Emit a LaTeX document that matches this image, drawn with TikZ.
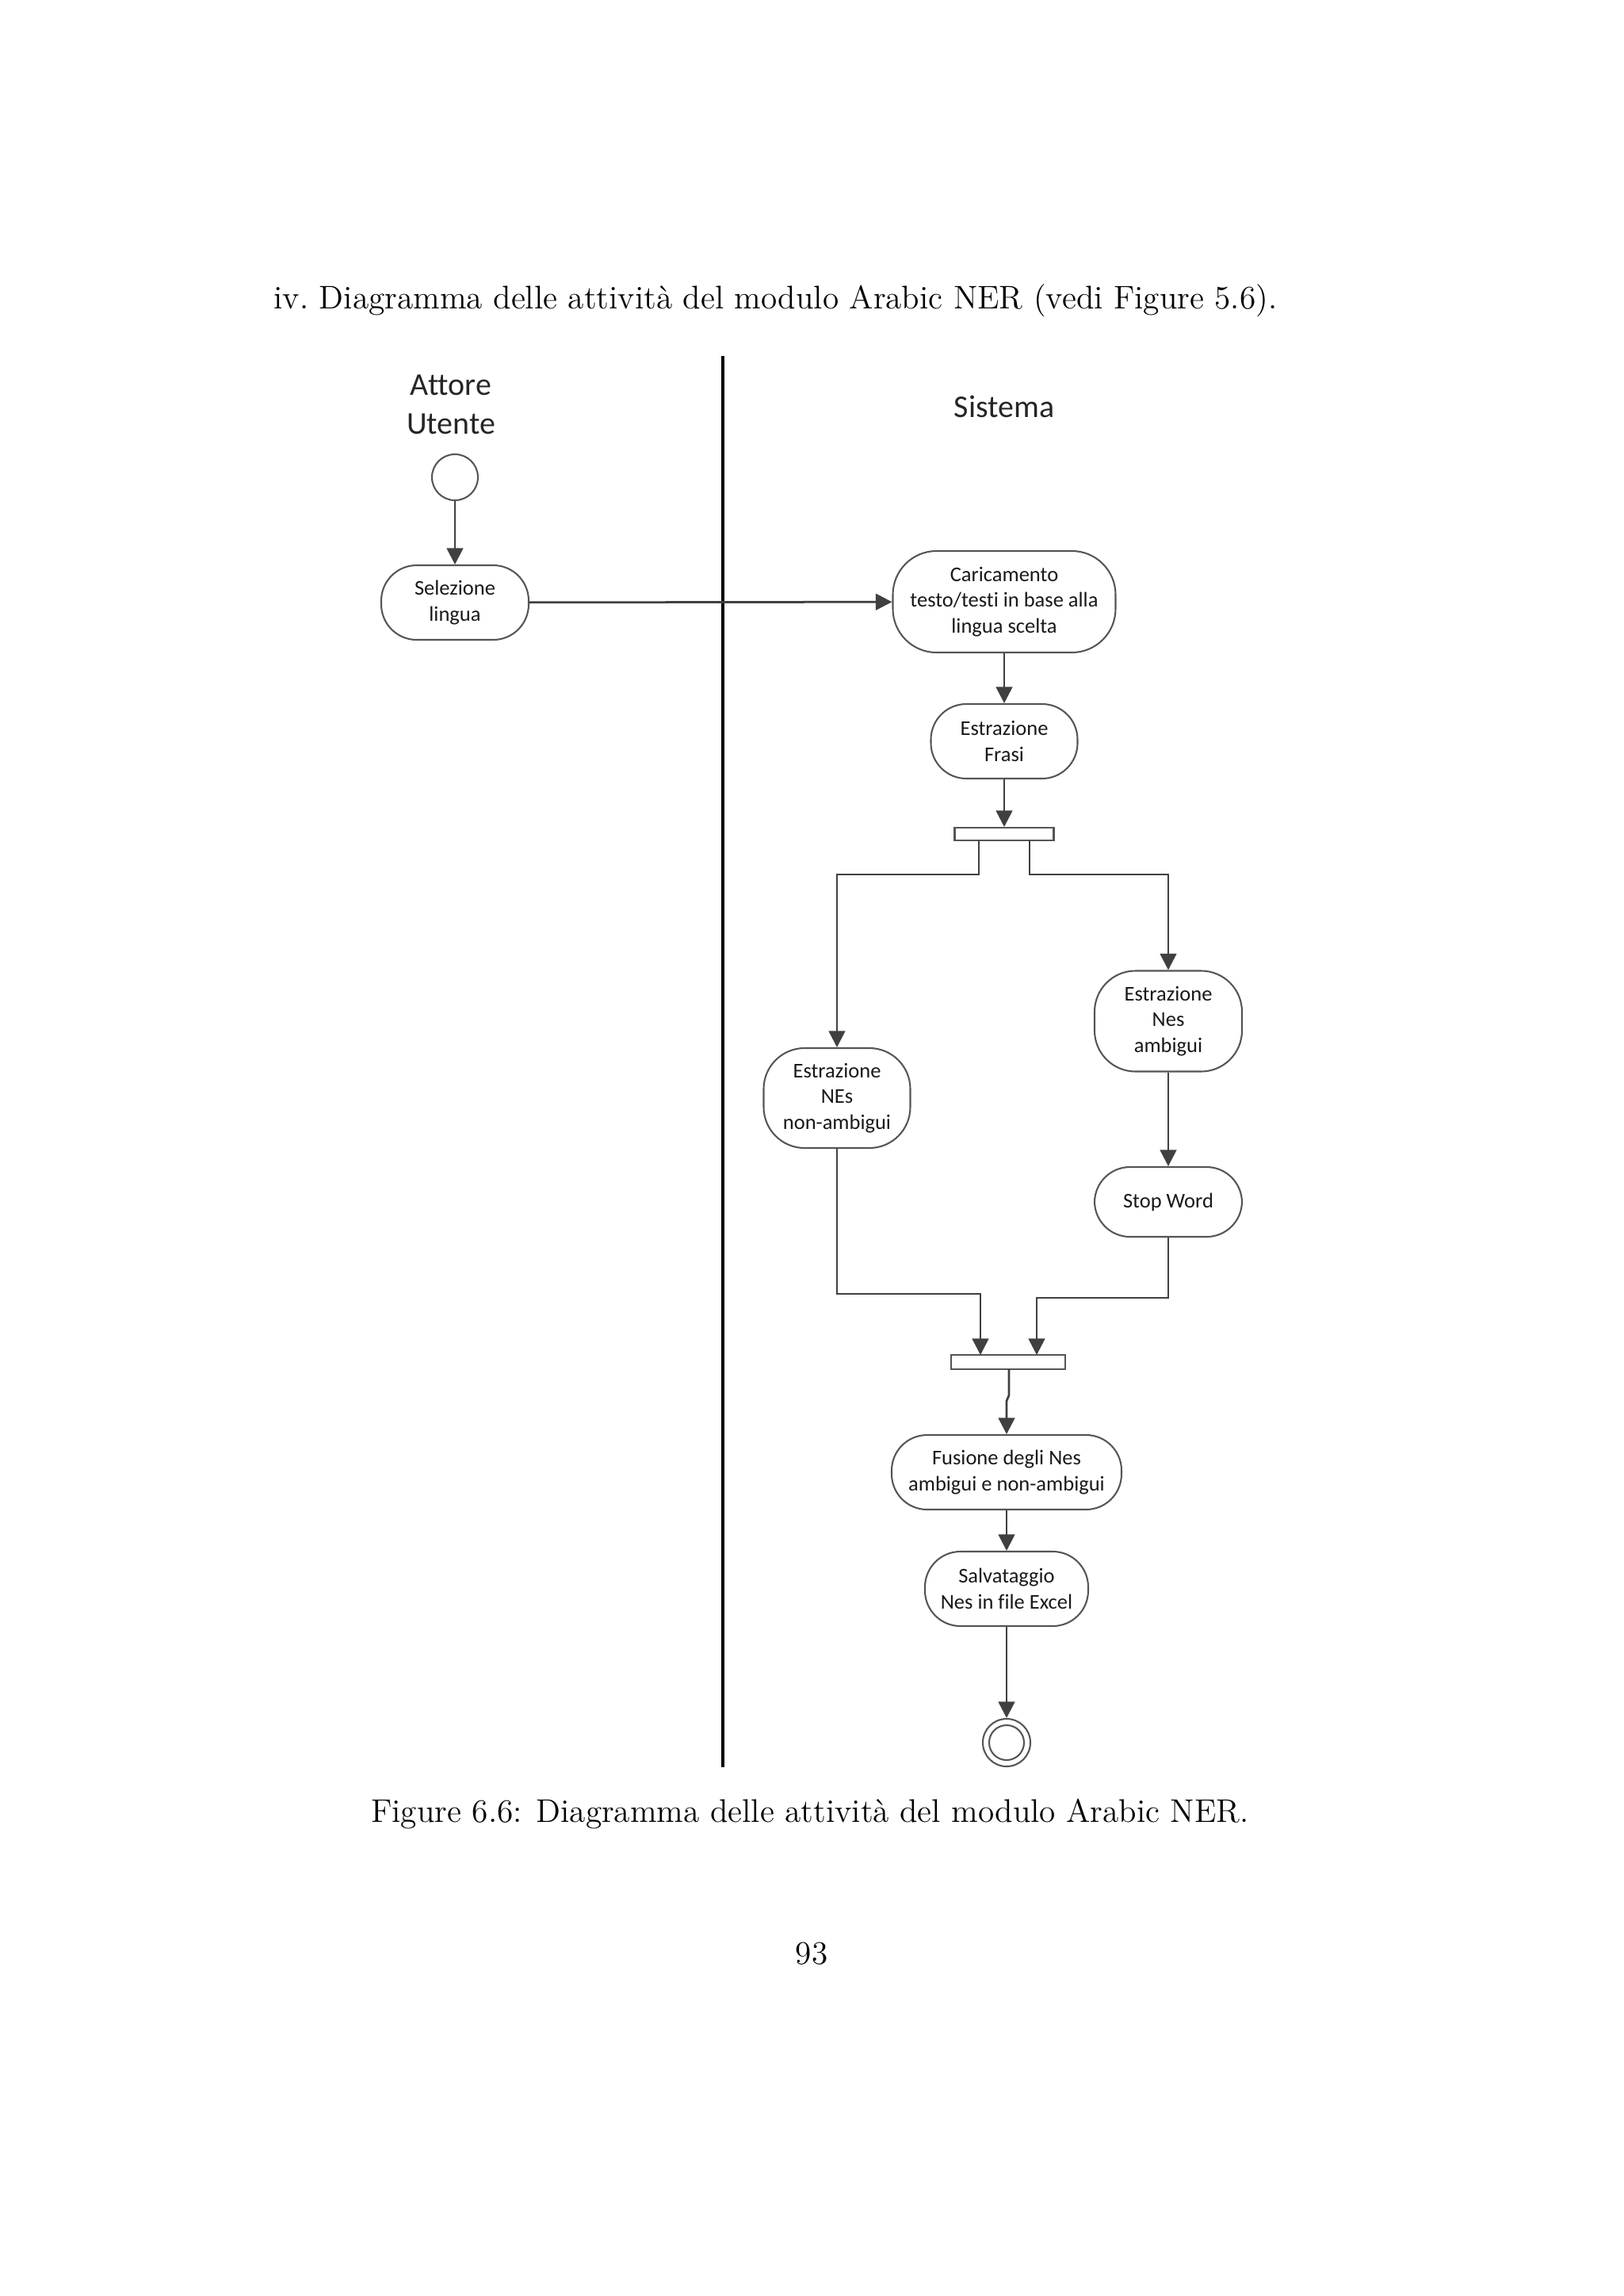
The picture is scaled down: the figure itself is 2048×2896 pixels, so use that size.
\documentclass[tikz,border=0pt]{standalone}
\usepackage{fontspec}
\newfontfamily\carlito[RawFeature={-liga;-clig;-dlig}]{Carlito}
\usetikzlibrary{arrows.meta,calc}
\newdimen\pxu \pxu=0.29067pt
\definecolor{ln}{HTML}{404040}
\definecolor{bd}{HTML}{555555}
\tikzset{
  act/.style={draw=bd, line width=0.6pt, fill=white, rounded corners=13pt, inner sep=0pt, align=center,
              font=\carlito\fontsize{7.7}{9.5}\selectfont, text=black!90},
  barbox/.style={draw=bd, line width=0.6pt, fill=white, inner sep=0pt},
  arr/.style={draw=ln, line width=0.8pt, -{Triangle[length=6pt,width=6pt]}},
  lane/.style={draw=black, line width=0.9pt},
  head/.style={font=\carlito\fontsize{11.6}{14.2}\selectfont, align=center, text=black!85},
  body/.style={font=\fontsize{12}{14.5}\selectfont, inner sep=0pt}
}
\begin{document}
\begin{tikzpicture}[x=0.29067pt,y=-0.29067pt]
\useasboundingbox[fill=white] (0,0) rectangle (2048,2896);

% header and caption
\node[body, anchor=base west] (hdr) at (345,389) {iv.\ Diagramma delle attività del modulo Arabic NER (vedi Figure 5.6).};
\node[body, anchor=base] (cap) at (1022,2298) {Figure 6.6: Diagramma delle attività del modulo Arabic NER.};
\node[body, anchor=base] (pg) at (1024,2477) {93};

% swimlane separator
\coordinate (lt) at (912,449);
\coordinate (lb) at (912,2229);
\draw[lane] (lt) -- (lb);

% lane titles
\node[head, anchor=base] (att) at (569,547) {Attore\\Utente};
\node[head, anchor=base] (sis) at (1267,526) {Sistema};

% nodes
\node[circle, draw=bd, line width=0.6pt, fill=white, minimum size=58\pxu, inner sep=0pt] (start) at (574,602) {};
\node[act, minimum width=186\pxu, minimum height=94\pxu] (sel) at (574,760) {Selezione\\lingua};
\node[act, minimum width=281\pxu, minimum height=128\pxu, rounded corners=16pt] (car) at (1267,759) {Caricamento\\testo/testi in base alla\\lingua scelta};
\node[act, minimum width=185\pxu, minimum height=94\pxu] (fr) at (1267,935) {Estrazione\\Frasi};
\node[barbox, minimum width=125\pxu, minimum height=16\pxu] (f1) at (1267,1052) {};
\node[act, minimum width=185\pxu, minimum height=126\pxu, rounded corners=15pt] (nena) at (1056,1385) {Estrazione\\NEs\\non-ambigui};
\node[act, minimum width=186\pxu, minimum height=127\pxu, rounded corners=15pt] (nea) at (1474,1288) {Estrazione\\Nes\\ambigui};
\node[act, minimum width=186\pxu, minimum height=88\pxu] (stop) at (1474,1516) {Stop Word};
\node[barbox, minimum width=144\pxu, minimum height=18\pxu] (f2) at (1272,1718) {};
\node[act, minimum width=290\pxu, minimum height=94\pxu] (fus) at (1270,1857) {Fusione degli Nes\\ambigui e non-ambigui};
\node[act, minimum width=206\pxu, minimum height=94\pxu] (sal) at (1270,2004) {Salvataggio\\Nes in file Excel};
\node[circle, draw=bd, line width=0.6pt, fill=white, minimum size=60\pxu, inner sep=0pt] (end) at (1270,2198) {};
\node[circle, draw=bd, line width=0.6pt, minimum size=44\pxu, inner sep=0pt] (endin) at (end) {};

% connectors
\draw[arr] (start) -- (sel);
\draw[arr] (sel) -- (car);
\draw[arr] (car) -- (fr);
\draw[arr] (fr) -- (f1);

\coordinate (f1a) at (1235,1060);
\coordinate (f1b) at (1299,1060);
\draw[arr] (f1a) -- (1235,1103) -| (nena);
\draw[arr] (f1b) -- (1299,1103) -| (nea);
\draw[arr] (nea) -- (stop);

\coordinate (j2a) at (1237,1709);
\coordinate (j2b) at (1308,1709);
\draw[arr] (nena) |- (1237,1632) -- (j2a);
\draw[arr] (stop) |- (1308,1637) -- (j2b);

\coordinate (j2o) at (1273,1727);
\draw[arr] (j2o) -- (1273,1760) -- (1270,1767) -- (fus);
\draw[arr] (fus) -- (sal);
\draw[arr] (sal) -- (end);
\end{tikzpicture}
\end{document}
